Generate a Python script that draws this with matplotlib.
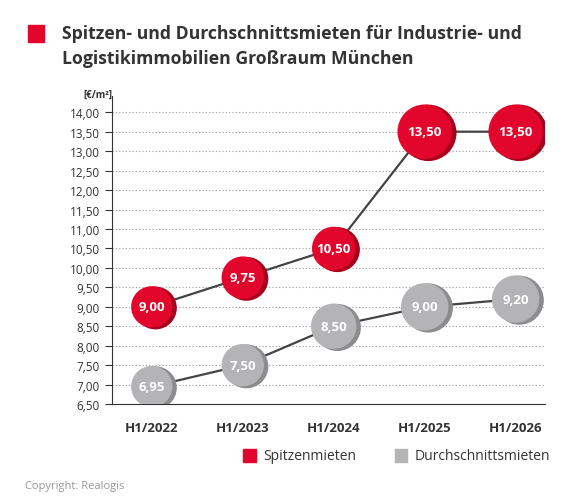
import matplotlib.pyplot as plt
from matplotlib.patches import Rectangle

plt.rcParams['font.family'] = ['Open Sans', 'DejaVu Sans']

categories = ['H1/2022', 'H1/2023', 'H1/2024', 'H1/2025', 'H1/2026']
spitzen = [9.00, 9.75, 10.50, 13.50, 13.50]
durchschnitt = [6.95, 7.50, 8.50, 9.00, 9.20]
spitzen_size = [950, 1000, 1050, 1650, 1650]
durch_size = [950, 1000, 1150, 1250, 1250]
yticks = [6.5 + 0.5 * i for i in range(16)]

RED = '#e2062c'
RED_DARK = '#a8001c'
GREY = '#b4b4b6'
GREY_DARK = '#8c8c8e'

fig = plt.figure(figsize=(5.82, 5.02), dpi=100)
ax = fig.add_axes([0.192, 0.193, 0.744, 0.614])
x = list(range(len(categories)))

for vals, sizes, c, cd in [(spitzen, spitzen_size, RED, RED_DARK),
                           (durchschnitt, durch_size, GREY, GREY_DARK)]:
    ax.plot(x, vals, color='#444444', lw=1.6, zorder=2)
    ax.scatter([xi + 0.04 for xi in x], [v - 0.03 for v in vals], s=sizes, color=cd, zorder=3, lw=0)
    ax.scatter(x, vals, s=[s * 0.93 for s in sizes], color=c, zorder=4, lw=0)
    for xi, v in zip(x, vals):
        ax.text(xi, v, f'{v:.2f}'.replace('.', ','), ha='center', va='center',
                color='white', fontsize=9.5, fontweight='bold', zorder=5)

ax.set_xlim(-0.44, 4.32)
ax.set_ylim(6.5, 14.42)
ax.set_yticks(yticks)
ax.set_yticklabels([f'{t:.2f}'.replace('.', ',') for t in yticks], fontsize=8.5, color='#333333')
ax.set_xticks(x)
ax.set_xticklabels(categories, fontsize=9.5, fontweight='bold', color='#333333')
ax.yaxis.grid(True, ls=(0, (1, 2)), color='#999999', lw=0.8)
ax.set_axisbelow(True)
for s in ['top', 'right']:
    ax.spines[s].set_visible(False)
ax.spines['left'].set_color('#333333')
ax.spines['bottom'].set_color('#333333')
ax.tick_params(axis='y', length=5, color='#333333')
ax.tick_params(axis='x', length=0, pad=12)
fig.text(0.143, 0.8, '[€/m²]', fontsize=7, fontweight='bold', color='#333333', va='bottom')

fig.patches.append(Rectangle((0.048, 0.915), 0.028, 0.034, transform=fig.transFigure, color=RED))
fig.text(0.107, 0.932, 'Spitzen- und Durchschnittsmieten für Industrie- und', fontsize=12.7,
         fontweight='bold', color='#333333', va='center')
fig.text(0.107, 0.883, 'Logistikimmobilien Großraum München', fontsize=12.7,
         fontweight='bold', color='#333333', va='center')

fig.patches.append(Rectangle((0.418, 0.077), 0.022, 0.027, transform=fig.transFigure, color=RED))
fig.text(0.452, 0.09, 'Spitzenmieten', fontsize=10, color='#333333', va='center')
fig.patches.append(Rectangle((0.678, 0.077), 0.022, 0.027, transform=fig.transFigure, color=GREY))
fig.text(0.712, 0.09, 'Durchschnittsmieten', fontsize=10, color='#333333', va='center')
fig.text(0.043, 0.03, 'Copyright: Realogis', fontsize=8, color='#999999', va='center')

fig.savefig('out.png', dpi=100)
